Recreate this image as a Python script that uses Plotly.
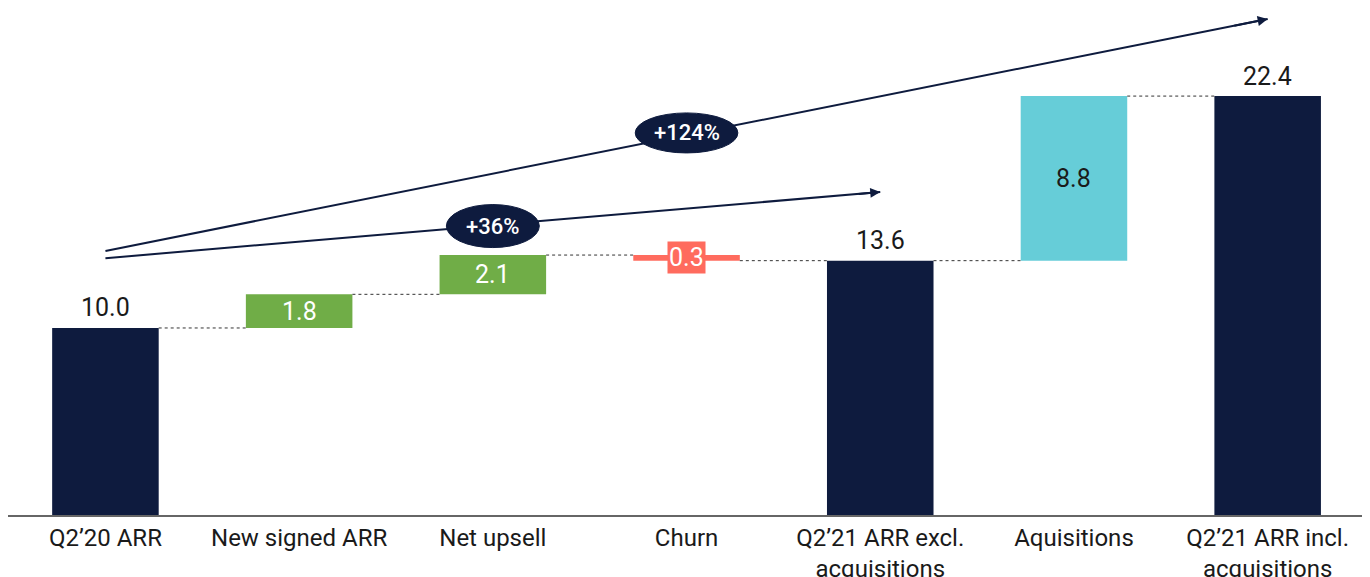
import plotly.graph_objects as go

categories = ["Q2’20 ARR", "New signed ARR", "Net upsell", "Churn",
              "Q2’21 ARR excl.<br>acquisitions", "Aquisitions", "Q2’21 ARR incl.<br>acquisitions"]
values = [10.0, 1.8, 2.1, -0.3, 13.6, 8.8, 22.4]
measures = ["absolute", "relative", "relative", "relative", "total", "relative", "total"]
colors = ["#0E1B3E", "#70AD47", "#70AD47", "#FF6B5E", "#0E1B3E", "#66CDD8", "#0E1B3E"]
growth_labels = ["+36%", "+124%"]

NAVY = "#0E1B3E"
FONT = "Roboto, Arial"
BW = 0.55

# compute bases / heights
bases, heights, levels = [], [], []
cum = 0.0
for v, m in zip(values, measures):
    if m == "absolute":
        b, h = 0, v
        cum = v
    elif m == "total":
        b, h = 0, cum
    else:
        if v >= 0:
            b, h = cum, v
        else:
            b, h = cum + v, -v
        cum += v
    bases.append(b)
    heights.append(h)
    levels.append(cum)

xs = list(range(len(categories)))

fig = go.Figure()
fig.add_trace(go.Bar(x=xs, y=heights, base=bases, width=BW,
                     marker=dict(color=colors, line=dict(width=0)),
                     hoverinfo="skip", showlegend=False))

# connectors
cx, cy = [], []
for i in range(len(xs) - 1):
    cx += [xs[i] + BW / 2, xs[i + 1] - BW / 2, None]
    cy += [levels[i], levels[i], None]
fig.add_trace(go.Scatter(x=cx, y=cy, mode="lines",
                         line=dict(color="#333333", width=1, dash="dot"),
                         hoverinfo="skip", showlegend=False))

annotations = []
for i, (v, m) in enumerate(zip(values, measures)):
    txt = f"{abs(v):.1f}"
    if m in ("absolute", "total"):
        annotations.append(dict(x=xs[i], y=bases[i] + heights[i], text=txt, showarrow=False,
                                yanchor="middle", yshift=20,
                                font=dict(family=FONT, size=25, color="#1A1A1A")))
    else:
        mid = bases[i] + heights[i] / 2
        if v < 0:
            annotations.append(dict(x=xs[i], y=mid, text=txt, showarrow=False,
                                    bgcolor=colors[i], borderpad=1,
                                    font=dict(family=FONT, size=25, color="white")))
        else:
            col = "#1A1A1A" if colors[i] == "#66CDD8" else "white"
            annotations.append(dict(x=xs[i], y=mid, text=txt, showarrow=False,
                                    font=dict(family=FONT, size=25, color=col)))

shapes = []
# growth arrows: (start x, start y, end x, end y), ellipse (cx, cy, w, h)
arrows = [
    ((0, 13.73, 4.0, 17.27), (2.0, 15.45, 0.48, 2.3)),
    ((0, 14.12, 6.0, 26.52), (3.0, 20.43, 0.53, 2.14)),
]
for (x0, y0, x1, y1), (ex, ey, ew, eh) in arrows:
    shapes.append(dict(type="line", x0=x0, y0=y0, x1=x1, y1=y1, xref="x", yref="y",
                       line=dict(color=NAVY, width=2), layer="above"))
for (x0, y0, x1, y1), (ex, ey, ew, eh) in arrows:
    shapes.append(dict(type="circle", x0=ex - ew / 2, x1=ex + ew / 2,
                       y0=ey - eh / 2, y1=ey + eh / 2, xref="x", yref="y",
                       fillcolor=NAVY, line=dict(color=NAVY, width=1), layer="above"))
for ((x0, y0, x1, y1), (ex, ey, ew, eh)), lab in zip(arrows, growth_labels):
    f = 0.03
    annotations.append(dict(x=x1, y=y1, ax=x1 - (x1 - x0) * f, ay=y1 - (y1 - y0) * f,
                            xref="x", yref="y", axref="x", ayref="y", text="",
                            showarrow=True, arrowhead=2, arrowsize=1, arrowwidth=2,
                            arrowcolor=NAVY, standoff=0))
    annotations.append(dict(x=ex, y=ey, text=lab, showarrow=False,
                            font=dict(family=FONT, size=22, color="white", weight=500)))

fig.update_layout(
    width=1362, height=569,
    margin=dict(l=0, r=2, t=0, b=62),
    paper_bgcolor="white", plot_bgcolor="white",
    shapes=shapes, annotations=annotations,
    xaxis=dict(range=[-0.503, 6.518], tickvals=xs, ticktext=categories,
               showline=True, linecolor="#666666", linewidth=2,
               showgrid=False, zeroline=False, ticks="", automargin=False,
               tickfont=dict(family=FONT, size=24, color="#1A1A1A")),
    yaxis=dict(range=[0, 27.11], visible=False, showgrid=False, zeroline=False,
               automargin=False),
)

fig.write_html("out.html")
